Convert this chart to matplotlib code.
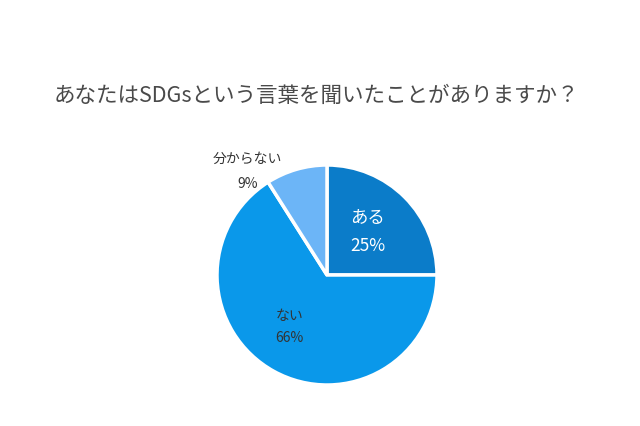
import matplotlib
matplotlib.use("Agg")
import matplotlib.pyplot as plt

plt.rcParams['font.family'] = ['Noto Sans CJK JP', 'DejaVu Sans']

title = "あなたはSDGsという言葉を聞いたことがありますか？"
labels = ["ある", "ない", "分からない"]
values = [25, 66, 9]
colors = ["#0b7cc9", "#0a98ea", "#6cb5f7"]

fig = plt.figure(figsize=(6.4, 4.26), dpi=100)
fig.patch.set_facecolor("white")

# pie centre at about (327, 275) px, radius 110 px
ax = fig.add_axes([217 / 640, 41 / 426, 220 / 640, 220 / 426])
ax.pie(values, colors=colors, startangle=90, counterclock=False, radius=1,
       wedgeprops=dict(edgecolor="white", linewidth=2.5))
ax.set_xlim(-1, 1)
ax.set_ylim(-1, 1)
ax.set_aspect("equal")
ax.axis("off")

# label positions (pie units)
pos = {
    "ある": (0.37, 0.52, 0.26, "white", 12.5),
    "ない": (-0.34, -0.37, -0.57, "#333333", 10),
    "分からない": (-0.72, 1.06, 0.83, "#333333", 10),
}
for lab, val in zip(labels, values):
    x, y1, y2, c, fs = pos[lab]
    ax.text(x, y1, lab, ha="center", va="center", color=c, fontsize=fs, clip_on=False)
    ax.text(x, y2, f"{val}%", ha="center", va="center", color=c, fontsize=fs, clip_on=False)

fig.text(316 / 640, 1 - 96 / 426, title, ha="center", va="center",
         fontsize=15.5, color="#4a4a4a")

fig.savefig("out.png", dpi=100, facecolor="white")
